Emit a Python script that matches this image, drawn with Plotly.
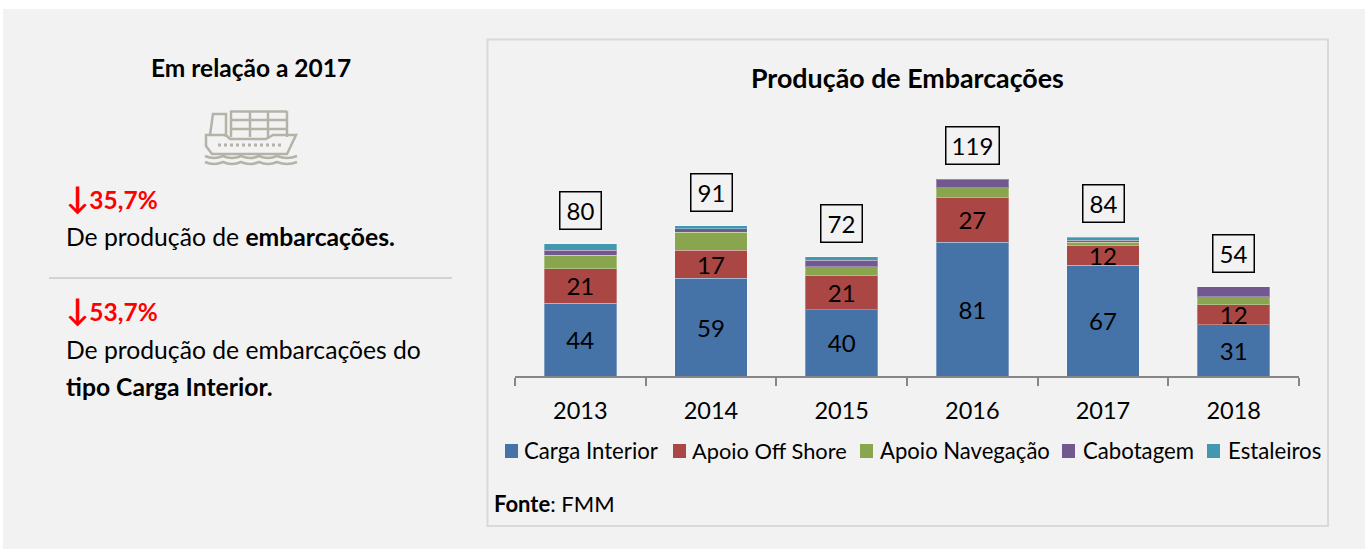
import plotly.graph_objects as go

years = ["2013", "2014", "2015", "2016", "2017", "2018"]
carga_interior = [44, 59, 40, 81, 67, 31]
apoio_off_shore = [21, 17, 21, 27, 12, 12]
apoio_navegacao = [8, 11, 5, 6, 2, 5]
cabotagem = [3, 2, 4, 5, 1, 6]
estaleiros = [4, 2, 2, 0, 2, 0]
totals = [80, 91, 72, 119, 84, 54]

series_names = ["Carga Interior", "Apoio Off Shore", "Apoio Navegação", "Cabotagem", "Estaleiros"]
series_values = [carga_interior, apoio_off_shore, apoio_navegacao, cabotagem, estaleiros]
series_colors = ["#4572A7", "#AA4643", "#89A54E", "#71588F", "#4198AF"]
labelled = [True, True, False, False, False]

FONT = "Lato, Carlito, Calibri, sans-serif"
ICON = "#B5B2A8"
X0, X1, Y0, YT = 515, 1299, 376, 128


def px(x):
    return (x - X0) / (X1 - X0)


def py(y):
    return (Y0 - y) / (Y0 - YT)


def path(cmds):
    out = []
    for c in cmds:
        if len(c) == 1:
            out.append(c[0])
        else:
            nums = c[1:]
            pairs = [f"{px(nums[i]):.5f},{py(nums[i + 1]):.5f}" for i in range(0, len(nums), 2)]
            out.append(c[0] + " ".join(pairs))
    return " ".join(out)


fig = go.Figure()
for name, vals, col, lab in zip(series_names, series_values, series_colors, labelled):
    fig.add_trace(go.Bar(
        name=name, x=years, y=[v if v else None for v in vals],
        marker=dict(color=col, line=dict(color="rgba(255,255,255,0.3)", width=1)),
        text=[str(v) for v in vals] if lab else None,
        textposition="inside" if lab else "none",
        insidetextanchor="middle", textangle=0, constraintext="none",
        insidetextfont=dict(family=FONT, size=24, color="#000000"),
        showlegend=False, hoverinfo="x+y+name",
    ))

shapes = []


def rect(x0, y0, x1, y1, fill=None, line=None, lw=0):
    shapes.append(dict(type="rect", xref="paper", yref="paper", x0=px(x0), x1=px(x1), y0=py(y0), y1=py(y1),
                       fillcolor=fill or "rgba(0,0,0,0)", line=dict(color=line or "rgba(0,0,0,0)", width=lw), layer="below"))


def line(x0, y0, x1, y1, color, lw, dash="solid"):
    shapes.append(dict(type="line", xref="paper", yref="paper", x0=px(x0), x1=px(x1), y0=py(y0), y1=py(y1),
                       line=dict(color=color, width=lw, dash=dash), layer="below"))


def stroke(cmds, color=ICON, lw=2.5):
    shapes.append(dict(type="path", xref="paper", yref="paper", path=path(cmds),
                       line=dict(color=color, width=lw), layer="below"))


rect(3, 9, 1365, 549, fill="#F2F2F2")
rect(487.5, 39.5, 1328, 526, fill="#F2F2F2", line="#D9D9D9", lw=2)
line(49, 278, 452, 278, "#C8C8C8", 1.5)

# ship icon
for yy in (111.5, 120, 129):
    line(230, yy, 287, yy, ICON, 2.5)
for xx in (231, 250, 268, 287):
    line(xx, 111, xx, 137, ICON, 2.5)
stroke([("M", 210, 135), ("L", 213, 114), ("L", 226, 114), ("L", 226, 137)])
stroke([("M", 206, 135), ("L", 206, 146), ("L", 212, 154), ("L", 287, 154), ("L", 296, 135), ("L", 273, 135),
        ("L", 266, 139), ("L", 230, 139), ("L", 226, 135), ("Z",)])
line(218, 145, 284, 145, ICON, 3, "dot")
for yy in (156, 162):
    stroke([("M", 205, yy), ("Q", 214, yy + 4, 223, yy), ("Q", 232, yy + 4, 241, yy), ("Q", 250, yy + 4, 259, yy),
            ("Q", 268, yy + 4, 277, yy), ("Q", 287, yy + 4, 297, yy)])

annotations = []


def note(x, y, text, size, anchor="left", color="#000000"):
    annotations.append(dict(xref="paper", yref="paper", x=px(x), y=py(y), text=text, showarrow=False,
                            xanchor=anchor, yanchor="middle", font=dict(family=FONT, size=size, color=color),
                            align=anchor))


ARROW = '<span style="font-size:31px">↓</span>'
note(250.5, 67, "<b>Em relação a 2017</b>", 24.5, "center")
note(64, 197, f"<b>{ARROW}35,7%</b>", 24.5, color="#FF0000")
note(64, 236, "De produção de <b>embarcações.</b>", 24.7)
note(64, 309, f"<b>{ARROW}53,7%</b>", 24.5, color="#FF0000")
note(64, 349, "De produção de embarcações do", 24.7)
note(64, 386, "<b>tipo Carga Interior.</b>", 24.7)
note(907, 78, "<b>Produção de Embarcações</b>", 26.8, "center")
note(492, 503, "<b>Fonte</b>: FMM", 22)

# totals in boxes (category position by index)
for i, t in enumerate(totals):
    annotations.append(dict(x=i, y=t, xref="x", yref="y", yshift=33.5, text=str(t), showarrow=False,
                            xanchor="center", yanchor="middle", width=52 if t > 99 else 40, height=36,
                            align="center", valign="middle", bordercolor="#000000", borderwidth=1.5, borderpad=0,
                            font=dict(family=FONT, size=24, color="#000000")))

# legend
legend_sw = [505, 673, 860, 1062, 1207]
legend_tx = [522, 690, 878, 1081, 1226]
legend_sz = [22.2, 21.8, 22.1, 22.2, 22.2]
for name, col, sw, tx, sz in zip(series_names, series_colors, legend_sw, legend_tx, legend_sz):
    rect(sw, 444, sw + 13, 458, fill=col)
    note(tx, 450, name, sz)

fig.update_layout(
    width=1371, height=551, autosize=False,
    margin=dict(l=X0, r=1371 - X1, t=YT, b=551 - Y0, pad=0),
    paper_bgcolor="#FFFFFF", plot_bgcolor="rgba(0,0,0,0)",
    barmode="stack", bargap=0.445, showlegend=False,
    font=dict(family=FONT, color="#000000"),
    shapes=shapes, annotations=annotations,
    xaxis=dict(type="category", categoryorder="array", categoryarray=years, range=[-0.5, 5.5],
               showgrid=False, zeroline=False,
               showline=True, linecolor="#868686", linewidth=2,
               ticks="outside", tickson="boundaries", ticklen=8, tickwidth=2, tickcolor="#868686",
               tickangle=0, tickfont=dict(family=FONT, size=23.5, color="#000000"), ticklabelstandoff=13, fixedrange=True),
    yaxis=dict(range=[0, 150], visible=False, fixedrange=True),
)

fig.write_html("out.html", config={"displayModeBar": False},
               post_script="document.body.style.margin='0';document.body.style.overflow='hidden';")
